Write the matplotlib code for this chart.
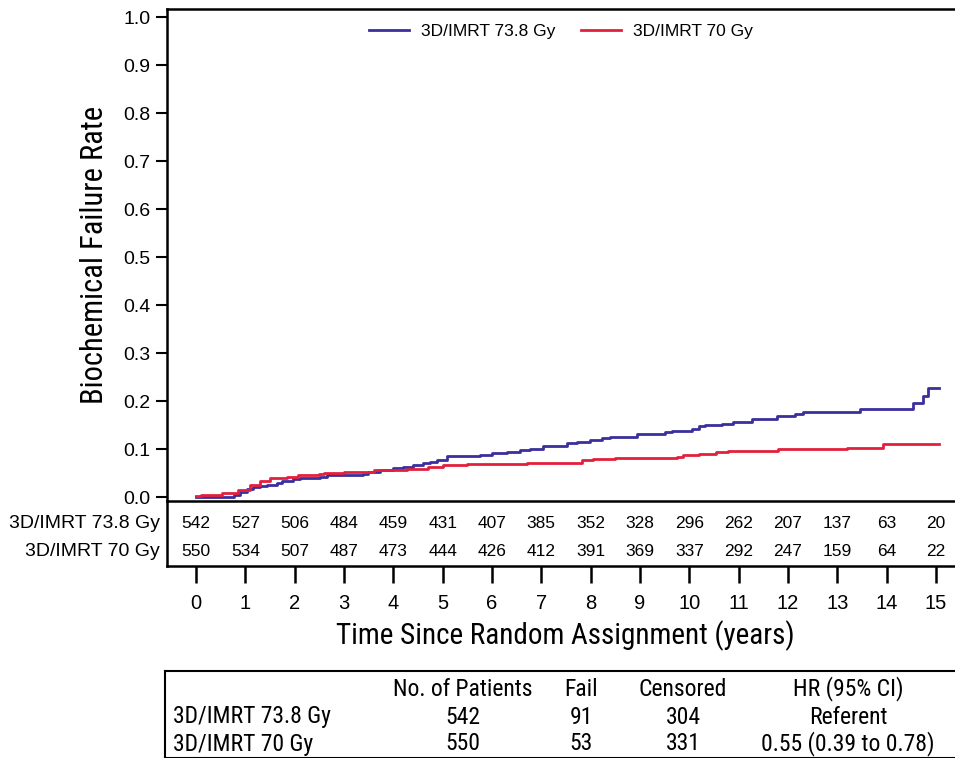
import numpy as np
import matplotlib
matplotlib.use('Agg')
import matplotlib.pyplot as plt

# curvas (tiempo en anyos, tasa de fallo), escalones
t_738 = [0, 0.52, 0.76, 0.89, 1.03, 1.16, 1.30, 1.43, 1.64, 1.74, 1.97, 2.10, 2.51, 2.65,
         3.39, 3.49, 3.73, 4.00, 4.20, 4.40, 4.61, 4.74, 4.88, 5.08, 5.76, 6.00, 6.30,
         6.57, 6.77, 7.04, 7.51, 7.72, 7.99, 8.23, 8.39, 8.93, 9.51, 9.65, 10.05, 10.19,
         10.32, 10.66, 10.89, 11.26, 11.77, 12.14, 12.30, 13.46, 14.54, 14.73, 14.83, 15.06]
v_738 = [0.0, 0.001, 0.004, 0.011, 0.016, 0.020, 0.022, 0.025, 0.030, 0.033, 0.0375, 0.040,
         0.042, 0.045, 0.048, 0.053, 0.056, 0.061, 0.063, 0.066, 0.070, 0.073, 0.077, 0.085,
         0.088, 0.091, 0.094, 0.097, 0.100, 0.106, 0.112, 0.115, 0.118, 0.122, 0.126, 0.132,
         0.135, 0.138, 0.142, 0.148, 0.151, 0.153, 0.157, 0.163, 0.168, 0.173, 0.177, 0.183,
         0.196, 0.210, 0.227, 0.227]

t_70 = [0, 0.10, 0.52, 0.85, 1.10, 1.30, 1.50, 1.84, 2.07, 2.50, 2.60, 3.00, 3.60, 4.27,
        4.70, 5.01, 5.50, 6.70, 7.82, 8.05, 8.49, 9.74, 9.88, 10.20, 10.55, 10.79, 11.80,
        13.19, 13.93, 15.06]
v_70 = [0.002, 0.004, 0.009, 0.015, 0.026, 0.033, 0.039, 0.042, 0.045, 0.047, 0.049, 0.052,
        0.056, 0.059, 0.062, 0.066, 0.068, 0.071, 0.078, 0.080, 0.081, 0.083, 0.087, 0.089,
        0.094, 0.096, 0.099, 0.103, 0.110, 0.110]

anyos = list(range(0, 16))
riesgo_738 = [542, 527, 506, 484, 459, 431, 407, 385, 352, 328, 296, 262, 207, 137, 63, 20]
riesgo_70 = [550, 534, 507, 487, 473, 444, 426, 412, 391, 369, 337, 292, 247, 159, 64, 22]

grupos = ['3D/IMRT 73.8 Gy', '3D/IMRT 70 Gy']
columnas = ['No. of Patients', 'Fail', 'Censored', 'HR (95% CI)']
tabla = [['542', '91', '304', 'Referent'],
         ['550', '53', '331', '0.55 (0.39 to 0.78)']]

azul = '#3a2f9c'
rojo = '#e3203c'
W, H = 955, 758
estrecha = ['Roboto Condensed', 'Archivo Narrow', 'DejaVu Sans']


def px(x, y):
    return x / W, 1 - y / H


plt.rcParams['font.family'] = ['Liberation Sans', 'DejaVu Sans']
fig = plt.figure(figsize=(W / 100, H / 100), dpi=100)

# grafico principal
ax = fig.add_axes([167 / W, 1 - 501 / H, 1 - 167 / W, (501 - 9) / H])
ax.step(t_738, v_738, where='post', color=azul, lw=2, label=grupos[0])
ax.step(t_70, v_70, where='post', color=rojo, lw=2, label=grupos[1])
ax.set_xlim(-0.588, 15.385)
ax.set_ylim(-0.0083, 1.0167)
ax.set_yticks(np.arange(0, 1.01, 0.1))
ax.set_yticklabels([f'{v:.1f}' for v in np.arange(0, 1.01, 0.1)])
ax.set_xticks([])
ax.tick_params(axis='y', direction='out', length=8, width=1.5, labelsize=14, pad=4)
ax.spines['right'].set_visible(False)
for s in ['left', 'top', 'bottom']:
    ax.spines[s].set_linewidth(1.8)
ax.set_ylabel('Biochemical Failure Rate', family=estrecha, fontsize=22, labelpad=10)
ax.legend(loc='upper center', bbox_to_anchor=(0.5, 1.002), ncol=2, frameon=False,
          fontsize=12.5, handlelength=2.3, columnspacing=1.5, handletextpad=0.7)

# tabla de pacientes en riesgo
ar = fig.add_axes([167 / W, 1 - 566 / H, 1 - 167 / W, 65 / H])
ar.set_xlim(-0.588, 15.385)
ar.set_ylim(0, 1)
ar.set_yticks([])
ar.set_xticks(anyos)
ar.tick_params(axis='x', direction='out', length=12, width=1.8, labelsize=14.5, pad=8)
ar.spines['right'].set_visible(False)
ar.spines['top'].set_visible(False)
for s in ['left', 'bottom']:
    ar.spines[s].set_linewidth(1.8)
ar.patch.set_alpha(0)
for fila, datos in zip([0.66, 0.23], [riesgo_738, riesgo_70]):
    for a, n in zip(anyos, datos):
        ar.text(a, fila, str(n), ha='center', va='center', fontsize=12.5)
ar.text(-0.009, 0.66, grupos[0], ha='right', va='center', fontsize=14,
        transform=ar.transAxes)
ar.text(-0.009, 0.23, grupos[1], ha='right', va='center', fontsize=14,
        transform=ar.transAxes)

fig.text(*px(565, 636), 'Time Since Random Assignment (years)', ha='center', va='center',
         family=estrecha, fontsize=21)

# tabla inferior
at = fig.add_axes([165 / W, 0, 1 - 165 / W + 0.01, (758 - 671) / H])
at.set_xticks([])
at.set_yticks([])
for s in at.spines.values():
    s.set_linewidth(1.5)
col_x = [463, 581, 683, 848]
fila_y = [689, 717, 744]
for cx, nombre in zip(col_x, columnas):
    fig.text(*px(cx, fila_y[0]), nombre, ha='center', va='center',
             family=estrecha, fontsize=17)
for i, g in enumerate(grupos):
    fig.text(*px(173, fila_y[i + 1]), g, ha='left', va='center',
             family=estrecha, fontsize=17)
    for cx, val in zip(col_x, tabla[i]):
        fig.text(*px(cx, fila_y[i + 1]), val, ha='center', va='center',
                 family=estrecha, fontsize=17)

fig.savefig('out.png', dpi=100)
